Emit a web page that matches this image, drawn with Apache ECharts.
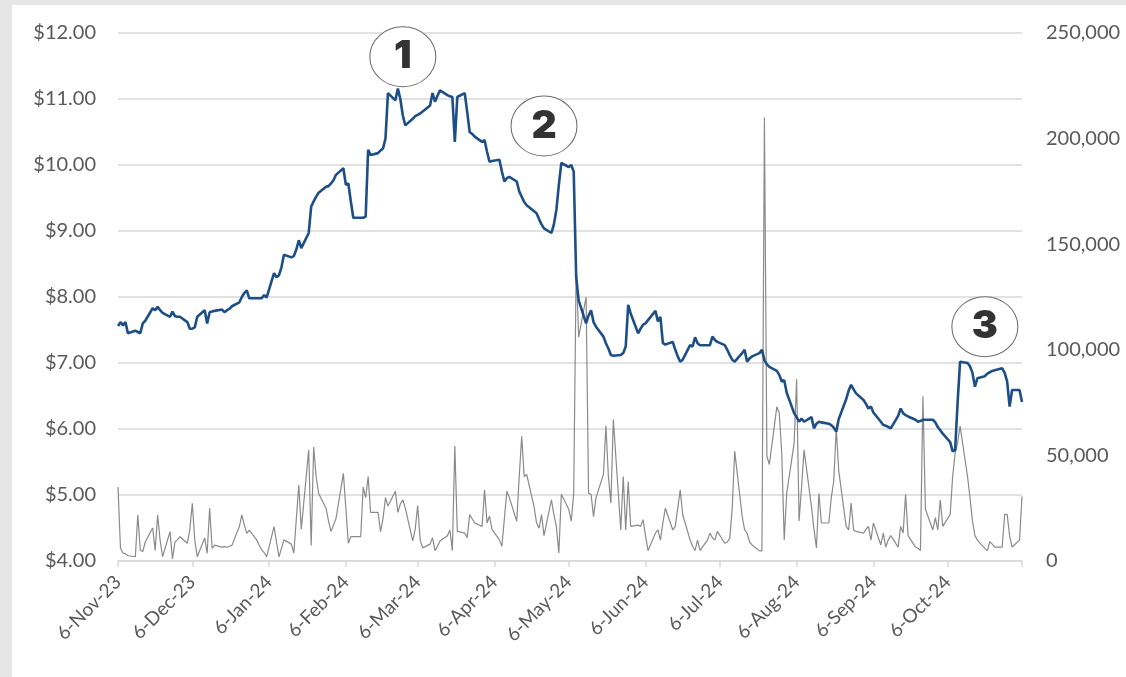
<!DOCTYPE html>
<html><head><meta charset="utf-8">
<script src="https://cdn.jsdelivr.net/npm/echarts@6/dist/echarts.min.js"></script>
<style>
html,body{margin:0;padding:0;background:#e6e6e6;width:1126px;height:677px;overflow:hidden}
#chart{position:absolute;left:12px;top:5px;width:1114px;height:672px;background:#fff}
</style></head><body><div id="chart"></div>
<script>
// Calendar range of the date axis (one category per calendar day)
const startDate = [2023, 10, 6];   // 6-Nov-23
const endDate = [2024, 10, 5];     // 5-Nov-24

// Closing share price (USD), one value per weekday, Mon-Fri per row
const price = [
  7.56, 7.62, 7.57, 7.62, 7.45,
  7.49, 7.47, 7.45, 7.60, 7.64,
  7.83, 7.80, 7.85, 7.80, 7.76,
  7.70, 7.78, 7.71, 7.70, 7.70,
  7.62, 7.52, 7.52, 7.54, 7.70,
  7.80, 7.60, 7.77, 7.78, 7.79,
  7.81, 7.77, 7.80, 7.82, 7.86,
  7.92, 8.00, 8.06, 8.10, 7.98,
  7.98, 7.98, 7.98, 8.03, 7.99,
  8.36, 8.30, 8.33, 8.45, 8.64,
  8.60, 8.62, 8.72, 8.86, 8.74,
  8.97, 9.37, 9.45, 9.52, 9.58,
  9.67, 9.68, 9.72, 9.77, 9.85,
  9.95, 9.70, 9.72, 9.45, 9.20,
  9.20, 9.20, 9.22, 10.23, 10.15,
  10.18, 10.22, 10.25, 10.40, 11.09,
  10.98, 11.16, 11.00, 10.75, 10.60,
  10.70, 10.74, 10.76, 10.78, 10.81,
  10.90, 11.09, 10.96, 11.05, 11.13,
  11.06, 11.04, 11.03, 10.35, 11.03,
  11.09, 10.80, 10.50, 10.47, 10.43,
  10.35, 10.38, 10.20, 10.05, 10.06,
  10.08, 9.90, 9.75, 9.80, 9.82,
  9.75, 9.60, 9.52, 9.44, 9.39,
  9.30, 9.27, 9.18, 9.10, 9.04,
  8.97, 9.10, 9.32, 9.70, 10.03,
  9.97, 10.00, 9.90, 8.30, 7.95,
  7.60, 7.72, 7.80, 7.62, 7.55,
  7.40, 7.30, 7.22, 7.12, 7.11,
  7.12, 7.15, 7.25, 7.88, 7.75,
  7.45, 7.52, 7.58, 7.60, 7.65,
  7.79, 7.63, 7.70, 7.30, 7.28,
  7.32, 7.20, 7.10, 7.02, 7.05,
  7.27, 7.25, 7.39, 7.30, 7.27,
  7.27, 7.27, 7.40, 7.35, 7.32,
  7.27, 7.20, 7.12, 7.05, 7.02,
  7.15, 7.20, 7.02, 7.07, 7.10,
  7.15, 7.20, 7.04, 6.98, 6.94,
  6.88, 6.82, 6.72, 6.74, 6.55,
  6.24, 6.18, 6.11, 6.16, 6.11,
  6.18, 6.01, 6.08, 6.11, 6.10,
  6.08, 6.06, 6.02, 5.96, 6.15,
  6.45, 6.58, 6.67, 6.60, 6.54,
  6.44, 6.38, 6.31, 6.34, 6.25,
  6.11, 6.06, 6.05, 6.03, 6.01,
  6.20, 6.31, 6.24, 6.21, 6.19,
  6.14, 6.11, 6.12, 6.14, 6.14,
  6.14, 6.10, 6.03, 5.98, 5.93,
  5.80, 5.66, 5.68, 6.40, 7.02,
  7.00, 6.95, 6.85, 6.64, 6.77,
  6.80, 6.84, 6.86, 6.88, 6.89,
  6.92, 6.85, 6.72, 6.34, 6.59,
  6.59, 6.41
];

// Daily traded volume (shares), one value per weekday, Mon-Fri per row
const volume = [
  35000, 6000, 3800, 3500, 2500,
  2000, 21800, 5200, 4500, 9000,
  15600, 5000, 21800, 10000, 2000,
  13900, 1000, 9000, 10000, 11500,
  8400, 15000, 27300, 10000, 2000,
  10900, 3600, 25000, 6000, 7500,
  6600, 6800, 6500, 7000, 7400,
  16300, 21800, 17000, 13100, 14600,
  10000, 7500, 5300, 4000, 2000,
  16300, 9000, 2000, 6000, 10000,
  8000, 3800, 20000, 36000, 15000,
  52600, 7400, 54000, 40000, 32000,
  25000, 19000, 13900, 17000, 20000,
  41500, 25000, 8400, 11500, 11500,
  11500, 35000, 30000, 40000, 23000,
  23000, 13900, 20000, 30000, 26000,
  33000, 23000, 27000, 29000, 25000,
  9500, 15000, 26300, 10000, 6200,
  8000, 11000, 4900, 7000, 9500,
  12000, 14700, 4900, 54400, 14000,
  13200, 11000, 22000, 20000, 18000,
  16400, 33700, 18000, 21200, 15000,
  10000, 7000, 20000, 33000, 30000,
  18800, 40000, 59000, 40000, 41000,
  25700, 18000, 15500, 22000, 12000,
  29000, 22000, 16400, 3800, 31600,
  24500, 18900, 32000, 140000, 106000,
  125000, 32000, 31600, 21000, 30000,
  41000, 64000, 40000, 27400, 67000,
  14700, 40000, 14700, 37600, 16400,
  17000, 16400, 19600, 12000, 4900,
  13200, 14700, 9900, 18000, 25000,
  14700, 16400, 25000, 33700, 22000,
  9900, 7000, 5000, 9900, 5000,
  9900, 13200, 11000, 9900, 14000,
  8400, 9000, 10700, 25000, 52000,
  21300, 14700, 13200, 9000, 7600,
  4800, 4800, 210000, 49600, 45700,
  73000, 70000, 51000, 9900, 32000,
  55800, 86000, 19000, 35000, 52600,
  25700, 15000, 6200, 32000, 18000,
  18000, 30000, 38000, 63000, 42800,
  16400, 14700, 27400, 14700, 14000,
  13200, 15000, 16400, 9900, 18000,
  7600, 13200, 6600, 10000, 12000,
  6600, 16400, 13200, 31600, 12000,
  6600, 6000, 5000, 78000, 24500,
  14700, 20500, 14700, 29000, 16400,
  22000, 40000, 51000, 55800, 64000,
  40000, 30000, 19000, 12000, 9900,
  6000, 4900, 9100, 8000, 6600,
  6600, 22100, 22100, 12000, 6600,
  9900, 30500
];

// Numbered call-outs: label, anchor date, anchor price level
const annotations = [
  { label: '1', date: '29-Feb-24', price: 11.64 },
  { label: '2', date: '26-Apr-24', price: 10.59 },
  { label: '3', date: '21-Oct-24', price: 7.55 }
];

const MONTHS = ['Jan','Feb','Mar','Apr','May','Jun','Jul','Aug','Sep','Oct','Nov','Dec'];
const days = [];
const trading = [];
for (let t = Date.UTC(...startDate); t <= Date.UTC(...endDate); t += 86400000) {
  const d = new Date(t);
  days.push(d.getUTCDate() + '-' + MONTHS[d.getUTCMonth()] + '-' + String(d.getUTCFullYear()).slice(2));
  const wd = d.getUTCDay();
  trading.push(wd !== 0 && wd !== 6);
}
function spread(values) {
  let k = 0;
  return days.map((_, i) => (trading[i] && k < values.length) ? values[k++] : null);
}
const priceData = spread(price);
const volumeData = spread(volume);

const labelFont = { color: '#595959', fontFamily: 'Lato', fontSize: 20 };
const isMonthTick = (i, v) => v.indexOf('6-') === 0;

const chart = echarts.init(document.getElementById('chart'), null, { renderer: 'canvas' });
chart.setOption({
  animation: false,
  backgroundColor: '#ffffff',
  grid: { left: 106, right: 104, top: 28, bottom: 116, containLabel: false, outerBoundsMode: 'none' },
  xAxis: {
    type: 'category',
    data: days,
    boundaryGap: false,
    axisLine: { lineStyle: { color: '#d9d9d9', width: 1.5 } },
    axisTick: {
      interval: (i, v) => isMonthTick(i, v) || i === days.length - 1,
      length: 6,
      lineStyle: { color: '#d9d9d9', width: 1.5 }
    },
    axisLabel: Object.assign({}, labelFont, { interval: isMonthTick, rotate: 45, margin: 18, fontSize: 19 }),
    splitLine: { show: false }
  },
  yAxis: [
    {
      type: 'value', position: 'left', min: 4, max: 12, interval: 1,
      axisLine: { show: false }, axisTick: { show: false },
      axisLabel: Object.assign({ margin: 22, formatter: v => '$' + v.toFixed(2) }, labelFont),
      splitLine: { lineStyle: { color: '#d9d9d9', width: 1.5 } }
    },
    {
      type: 'value', position: 'right', min: 0, max: 250000, interval: 50000,
      axisLine: { show: false }, axisTick: { show: false },
      axisLabel: Object.assign({ margin: 24, formatter: v => v.toLocaleString('en-US') }, labelFont),
      splitLine: { show: false }
    }
  ],
  series: [
    {
      name: 'Volume', type: 'line', yAxisIndex: 1, data: volumeData,
      connectNulls: true, symbol: 'none', z: 2,
      lineStyle: { color: '#8a8a8a', width: 1.2 }
    },
    {
      name: 'Price', type: 'line', yAxisIndex: 0, data: priceData,
      connectNulls: true, symbol: 'none', z: 3,
      lineStyle: { color: '#1d4f86', width: 2.6 },
      markPoint: {
        silent: true,
        symbol: 'path://M0,30A33,30,0,1,1,66,30A33,30,0,1,1,0,30Z',
        symbolSize: [66, 60],
        itemStyle: { color: '#ffffff', borderColor: '#6b6b6b', borderWidth: 1 },
        label: { show: true, position: 'inside', formatter: '{b}', color: '#333333', fontFamily: 'Inter', fontWeight: 900, fontSize: 39 },
        data: annotations.map(a => ({ name: a.label, coord: [a.date, a.price] }))
      }
    }
  ]
});
</script></body></html>
